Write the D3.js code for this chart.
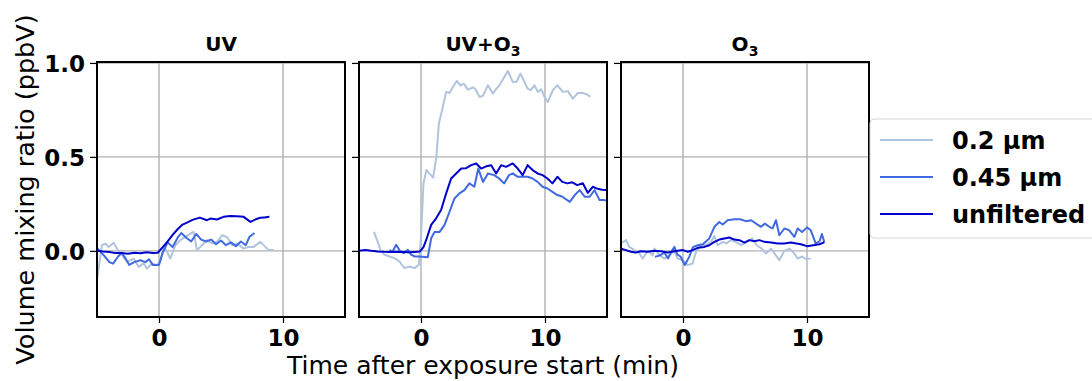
<!DOCTYPE html>
<html>
<head>
<meta charset="utf-8">
<script src="https://cdn.jsdelivr.net/npm/d3@7"></script>
<style>
  body { margin: 0; background: #fff; }
  svg { display: block; font-family: "DejaVu Sans", sans-serif; }
</style>
</head>
<body>
<svg id="chart" width="1092" height="381"></svg>
<script>
// filter sizes and their line colours
const filters = ['0.2 µm', '0.45 µm', 'unfiltered'];
const colors = ['#b0c4de', '#4169e1', '#0000cd'];

// [minutes after exposure start, ppbV]
const uv02 = [[-5,-0.156],[-4.6,0.03],[-4.33,0.039],[-4.06,0.021],[-3.66,0.043],[-3.39,0.012],[-2.98,-0.023],[-2.58,-0.059],[-2.04,-0.041],[-1.64,-0.085],[-1.24,-0.067],[-0.97,-0.094],[-0.56,-0.067],[-0.16,-0.076],[0.11,-0.05],[0.38,0.021],[0.65,-0.005],[0.91,-0.041],[1.32,0.03],[1.72,0.057],[2.12,0.074],[2.53,0.092],[2.8,0.101],[3.06,0.004],[3.47,0.03],[3.87,0.057],[4.27,0.039],[4.68,0.048],[5.08,0.083],[5.48,0.074],[5.89,0.03],[6.29,0.039],[6.83,0.012],[7.23,0.021],[7.63,0.021],[8.17,0.048],[8.58,0.021],[8.84,0.004],[9.25,0.004]];
const uv045 = [[-5,0.015],[-4.5,-0.02],[-4,-0.06],[-3.7,-0.068],[-3.3,-0.03],[-3,-0.01],[-2.7,-0.04],[-2.4,-0.075],[-2,-0.06],[-1.5,-0.05],[-1.1,-0.06],[-0.8,-0.045],[-0.5,-0.075],[0,-0.075],[0.3,-0.01],[0.7,0.045],[1.1,0.02],[1.5,0.07],[1.8,0.095],[2.2,0.07],[2.6,0.05],[3,0.09],[3.4,0.06],[3.8,0.05],[4.2,0.06],[4.6,0.035],[5,0.055],[5.4,0.03],[5.8,0.045],[6.2,0.025],[6.6,0.05],[7,0.03],[7.3,0.075],[7.7,0.095]];
const uvUnf = [[-5,0.0],[-4.5,-0.004],[-4,-0.006],[-3.5,-0.012],[-3,-0.012],[-2.5,-0.015],[-2,-0.01],[-1.5,-0.013],[-1,-0.008],[-0.5,-0.012],[-0.1,-0.01],[0.3,0.02],[0.7,0.05],[1.1,0.085],[1.5,0.115],[1.9,0.14],[2.3,0.152],[2.7,0.165],[3.3,0.177],[3.87,0.163],[4.14,0.172],[4.68,0.167],[5.2,0.181],[5.75,0.186],[6.29,0.184],[6.83,0.181],[7.37,0.154],[7.8,0.168],[8.17,0.176],[8.5,0.178],[8.9,0.181]];

const uvo302 = [[-3.8,0.101],[-3.5,0.05],[-3.27,0.004],[-2.94,-0.021],[-2.54,-0.03],[-2.1,-0.04],[-1.73,-0.057],[-1.33,-0.092],[-0.93,-0.083],[-0.52,-0.092],[-0.17,-0.074],[0.0,0.075],[0.2,0.36],[0.44,0.43],[0.7,0.41],[0.98,0.39],[1.24,0.5],[1.44,0.678],[1.7,0.748],[2.03,0.846],[2.3,0.84],[2.57,0.872],[2.89,0.904],[3.2,0.88],[3.45,0.89],[3.78,0.858],[4.2,0.87],[4.4,0.86],[4.72,0.819],[5.0,0.825],[5.39,0.881],[5.8,0.837],[6.05,0.86],[6.33,0.881],[6.73,0.926],[7.0,0.957],[7.4,0.899],[7.7,0.9],[8.02,0.943],[8.2,0.92],[8.6,0.863],[8.85,0.855],[9.15,0.881],[9.42,0.846],[9.7,0.86],[9.96,0.819],[10.23,0.792],[10.63,0.855],[11.0,0.881],[11.44,0.846],[11.85,0.85],[12.24,0.81],[12.65,0.84],[13.05,0.84],[13.3,0.835],[13.58,0.823],[13.65,0.826]];
const uvo3045 = [[-2.54,0.005],[-2.3,-0.005],[-2.0,0.032],[-1.7,0.0],[-1.4,-0.012],[-1.06,0.005],[-0.8,-0.02],[-0.5,-0.03],[-0.12,-0.03],[0.55,-0.034],[0.82,0.067],[1.09,0.1],[1.49,0.1],[1.9,0.138],[2.3,0.208],[2.7,0.279],[3.1,0.306],[3.5,0.323],[3.9,0.359],[4.3,0.341],[4.62,0.438],[5.0,0.367],[5.4,0.412],[5.9,0.403],[6.3,0.385],[6.7,0.359],[7.1,0.403],[7.4,0.412],[7.8,0.394],[8.2,0.394],[8.6,0.394],[9.0,0.385],[9.4,0.367],[9.8,0.341],[10.2,0.332],[10.6,0.314],[11.0,0.297],[11.4,0.288],[12.0,0.261],[12.4,0.297],[12.8,0.323],[13.2,0.288],[13.6,0.288],[14.0,0.323],[14.4,0.27],[14.8,0.27],[15.2,0.265]];
const uvo3Unf = [[-5,0.0],[-4.5,0.005],[-4,0.0],[-3.5,-0.003],[-3,-0.005],[-2.5,-0.006],[-2,-0.005],[-1.5,-0.006],[-1,-0.008],[-0.5,-0.006],[-0.1,-0.004],[0.2,0.02],[0.42,0.058],[0.82,0.138],[1.22,0.173],[1.62,0.217],[2.03,0.306],[2.43,0.385],[2.84,0.412],[3.24,0.438],[3.64,0.44],[4.05,0.456],[4.45,0.465],[4.85,0.438],[5.26,0.45],[5.66,0.456],[6.06,0.412],[6.46,0.456],[6.86,0.447],[7.4,0.465],[7.8,0.438],[8.2,0.403],[8.6,0.456],[9.0,0.43],[9.4,0.412],[9.8,0.403],[10.2,0.385],[10.6,0.359],[11.0,0.394],[11.4,0.367],[11.8,0.359],[12.2,0.365],[12.6,0.35],[13.05,0.36],[13.45,0.309],[13.85,0.341],[14.25,0.33],[14.6,0.325],[15.2,0.323]];

const o302 = [[-5,0.039],[-4.6,0.057],[-4.33,0.021],[-3.93,0.004],[-3.6,-0.005],[-3.25,-0.041],[-2.85,0.0],[-2.45,-0.023],[-2.31,0.012],[-1.9,-0.023],[-1.5,-0.041],[-1.1,-0.023],[-0.7,0.0],[-0.43,-0.041],[0,-0.05],[0.38,-0.076],[0.78,-0.067],[1.05,-0.005],[1.45,0.03],[1.85,0.03],[2.26,0.048],[2.53,0.08],[2.8,0.03],[3.2,0.048],[3.5,0.04],[3.87,0.058],[4.27,0.048],[4.68,0.03],[5.1,0.045],[5.6,0.066],[5.95,0.03],[6.35,0.012],[6.7,-0.014],[7.1,0.012],[7.45,-0.02],[7.77,-0.05],[8.17,0.0],[8.6,0.012],[8.98,-0.015],[9.25,-0.041],[9.6,-0.03],[9.95,-0.045],[10.3,-0.04]];
const o3045 = [[-2.26,-0.032],[-1.9,-0.025],[-1.5,-0.01],[-1.2,-0.04],[-0.9,0.0],[-0.7,0.021],[-0.45,-0.02],[-0.2,-0.03],[0.15,-0.075],[0.5,-0.032],[0.8,0.02],[1.18,0.03],[1.6,0.035],[2.12,0.066],[2.53,0.128],[2.93,0.154],[3.2,0.14],[3.6,0.163],[4.14,0.168],[4.6,0.168],[5.08,0.158],[5.5,0.163],[5.89,0.145],[6.29,0.128],[6.6,0.145],[6.96,0.128],[7.23,0.12],[7.5,0.163],[7.77,0.083],[8.17,0.119],[8.55,0.11],[8.98,0.075],[9.25,0.119],[9.6,0.1],[10.0,0.125],[10.3,0.11],[10.7,0.04],[11.0,0.05],[11.2,0.09],[11.4,0.045]];
const o3Unf = [[-5,0.012],[-4.6,0.004],[-4.2,-0.005],[-3.8,-0.009],[-3.4,-0.002],[-2.85,-0.005],[-2.31,0.0],[-1.77,-0.002],[-1.24,-0.009],[-0.7,-0.002],[0,0.004],[0.38,-0.005],[0.78,0.004],[1.18,0.016],[1.72,0.021],[2.12,0.03],[2.53,0.048],[2.93,0.06],[3.33,0.066],[3.74,0.071],[4.14,0.06],[4.55,0.057],[4.95,0.044],[5.35,0.057],[5.75,0.051],[6.16,0.057],[6.56,0.048],[7.1,0.044],[7.63,0.039],[8.17,0.039],[8.7,0.044],[9.5,0.035],[10.0,0.025],[10.5,0.03],[11.0,0.035],[11.4,0.045]];

// panel titles: [text, is subscript] pieces
const titles = [
  [['UV', false]],
  [['UV+O', false], ['3', true]],
  [['O', false], ['3', true]],
];
const panels = [
  [uv02, uv045, uvUnf],
  [uvo302, uvo3045, uvo3Unf],
  [o302, o3045, o3Unf],
];

const xTicks = [0, 10];
const yTicks = [0.0, 0.5, 1.0];

const svg = d3.select('#chart');
const panelW = 248;
const panelGap = 14;
const plotLeft = 97;
const plotTop = 62;
const plotBottom = 317;

const x = d3.scaleLinear().domain([-5, 15]).range([0, panelW]);
const y = d3.scaleLinear().domain([-0.352, 1.005]).range([plotBottom, plotTop]);

const line = d3.line()
  .x((d) => x(d[0]))
  .y((d) => y(d[1]));

svg.append('defs')
  .append('clipPath')
    .attr('id', 'plotClip')
  .append('rect')
    .attr('x', 0)
    .attr('y', plotTop)
    .attr('width', panelW)
    .attr('height', plotBottom - plotTop);

panels.forEach((series, i) => {
  const g = svg.append('g')
    .attr('transform', `translate(${plotLeft + i * (panelW + panelGap)},0)`);

  // grid
  g.append('g')
    .selectAll('line')
    .data(xTicks)
    .join('line')
      .attr('x1', (d) => x(d))
      .attr('x2', (d) => x(d))
      .attr('y1', plotTop)
      .attr('y2', plotBottom)
      .attr('stroke', '#b0b0b0')
      .attr('stroke-width', 1.4);
  g.append('g')
    .selectAll('line')
    .data(yTicks)
    .join('line')
      .attr('x1', 0)
      .attr('x2', panelW)
      .attr('y1', (d) => y(d))
      .attr('y2', (d) => y(d))
      .attr('stroke', '#b0b0b0')
      .attr('stroke-width', 1.4);

  // data lines
  g.append('g')
    .attr('clip-path', 'url(#plotClip)')
    .selectAll('path')
    .data(series)
    .join('path')
      .attr('d', line)
      .attr('fill', 'none')
      .attr('stroke', (d, j) => colors[j])
      .attr('stroke-width', 2)
      .attr('stroke-linejoin', 'round');

  // axes
  const xAxis = g.append('g')
    .attr('transform', `translate(0,${plotBottom})`)
    .call(d3.axisBottom(x).tickValues(xTicks).tickSize(6).tickPadding(7).tickFormat(d3.format('d')));
  const yAxis = g.append('g')
    .call(d3.axisLeft(y).tickValues(yTicks).tickSize(7).tickPadding(5)
      .tickFormat(i === 0 ? d3.format('.1f') : () => ''));
  [xAxis, yAxis].forEach((ax) => {
    ax.select('.domain').remove();
    ax.selectAll('line').attr('stroke', '#000').attr('stroke-width', 1.2);
    ax.selectAll('text')
      .attr('fill', '#000')
      .style('font-size', '23px')
      .style('font-weight', 'bold')
      .style('font-family', '"DejaVu Sans", sans-serif');
  });
  yAxis.selectAll('text').attr('dy', '0.36em');

  // frame
  g.append('rect')
    .attr('x', 0)
    .attr('y', plotTop)
    .attr('width', panelW)
    .attr('height', plotBottom - plotTop)
    .attr('fill', 'none')
    .attr('stroke', '#000')
    .attr('stroke-width', 2);

  // title
  const t = g.append('text')
    .attr('x', panelW / 2)
    .attr('y', 51)
    .attr('text-anchor', 'middle')
    .style('font-size', '20px')
    .style('font-weight', 'bold');
  titles[i].forEach(([s, sub]) => {
    t.append('tspan')
      .text(s)
      .attr('dy', sub ? 5 : null)
      .style('font-size', sub ? '14px' : null);
  });
});

// axis labels
const midX = plotLeft + 1.5 * panelW + panelGap;
svg.append('text')
  .attr('x', midX)
  .attr('y', 374)
  .attr('text-anchor', 'middle')
  .style('font-size', '25px')
  .text('Time after exposure start (min)');

svg.append('text')
  .attr('transform', `translate(34,${(plotTop + plotBottom) / 2}) rotate(-90)`)
  .attr('text-anchor', 'middle')
  .style('font-size', '25.5px')
  .text('Volume mixing ratio (ppbV)');

// legend
const legend = svg.append('g').attr('transform', 'translate(870,119)');
legend.append('rect')
  .attr('width', 240)
  .attr('height', 119)
  .attr('rx', 4)
  .attr('fill', '#fff')
  .attr('fill-opacity', 0.8)
  .attr('stroke', '#d6d6d6')
  .attr('stroke-width', 1);
const item = legend.selectAll('g.item')
  .data(filters)
  .join('g')
    .attr('class', 'item')
    .attr('transform', (d, i) => `translate(0,${21 + i * 37})`);
item.append('line')
  .attr('x1', 10)
  .attr('x2', 63)
  .attr('stroke', (d, i) => colors[i])
  .attr('stroke-width', 2);
item.append('text')
  .attr('x', 82)
  .attr('dy', '0.36em')
  .style('font-size', '24px')
  .style('font-weight', 'bold')
  .text((d) => d);
</script>
</body>
</html>
